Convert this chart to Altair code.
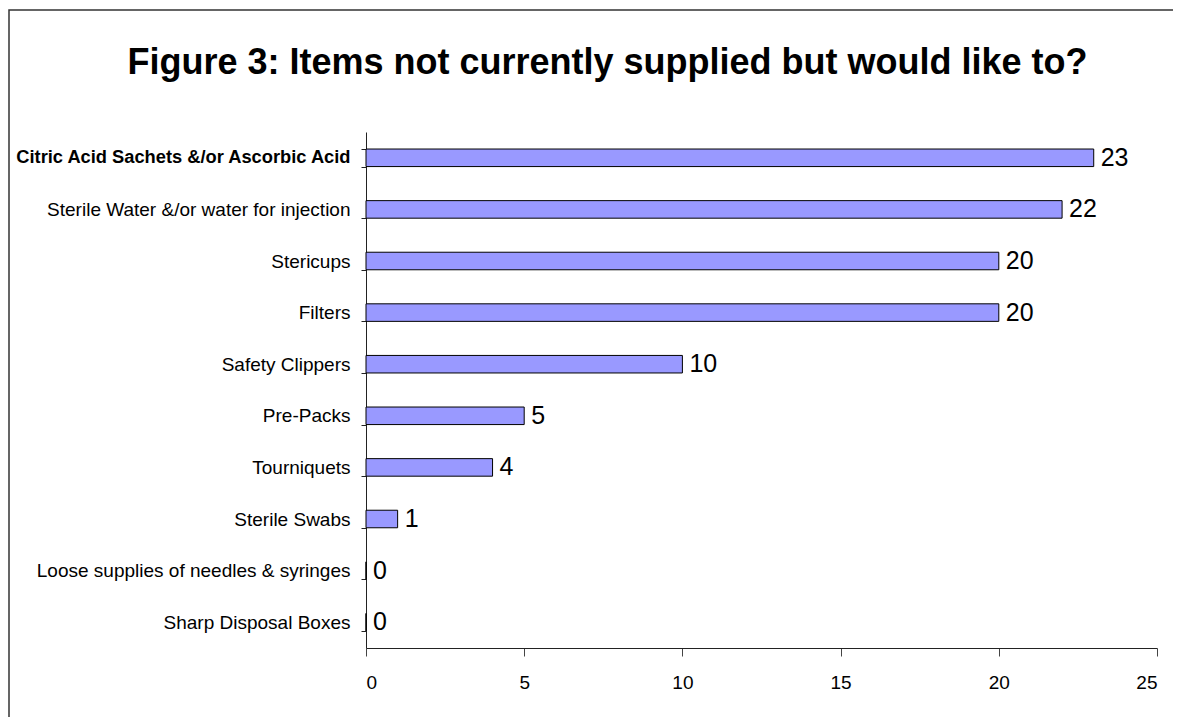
import altair as alt
import pandas as pd

categories = [
    "Citric Acid Sachets &/or Ascorbic Acid",
    "Sterile Water &/or water for injection",
    "Stericups",
    "Filters",
    "Safety Clippers",
    "Pre-Packs",
    "Tourniquets",
    "Sterile Swabs",
    "Loose supplies of needles & syringes",
    "Sharp Disposal Boxes",
]
counts = [23, 22, 20, 20, 10, 5, 4, 1, 0, 0]
x_ticks = [0, 5, 10, 15, 20, 25]

df = pd.DataFrame({"item": categories, "count": counts})

FONT = "Liberation Sans"
BOLD_TEST = "datum.value == 'Citric Acid Sachets &/or Ascorbic Acid'"

y_enc = alt.Y(
    "item:N",
    sort=categories,
    scale=alt.Scale(paddingInner=0.66, paddingOuter=0.33),
    axis=alt.Axis(
        title=None,
        tickBand="extent",
        labelFont=FONT,
        labelFontSize=alt.condition(BOLD_TEST, alt.value(18.3), alt.value(19)),
        labelColor="black",
        labelPadding=11,
        labelLimit=500,
        labelFontWeight=alt.condition(
            BOLD_TEST, alt.value("bold"), alt.value("normal")
        ),
        domainColor="#222",
        tickColor="#222",
        tickSize=5,
    ),
)
x_enc = alt.X(
    "count:Q",
    scale=alt.Scale(domain=[0, 25], nice=False),
    axis=alt.Axis(
        title=None,
        values=x_ticks,
        grid=False,
        labelFont=FONT,
        labelFontSize=19,
        labelColor="black",
        labelPadding=17,
        domainColor="#222",
        tickColor="#444",
        tickSize=8,
    ),
)

base = alt.Chart(df)
bars = base.mark_bar(color="#9999FF", stroke="black", strokeWidth=1).encode(
    y=y_enc, x=x_enc
)
labels = base.mark_text(
    align="left", baseline="middle", dx=7, font=FONT, fontSize=25, color="black"
).encode(y=y_enc, x=x_enc, text="count:Q")

frame = alt.Chart(alt.Data(values=[{"f": 1}])).mark_rect(
    fillOpacity=0, stroke="#333", strokeWidth=1.5
).encode(
    x=alt.value(-357), x2=alt.value(900), y=alt.value(-122), y2=alt.value(800)
)

chart = (
    alt.layer(frame, bars, labels)
    .properties(
        width=791,
        height=516,
        autosize="none",
        padding={"left": 358, "top": 124, "right": 16, "bottom": 69},
        title=alt.TitleParams(
            text="Figure 3: Items not currently supplied but would like to?",
            font=FONT,
            fontSize=36,
            fontWeight="bold",
            color="black",
            anchor="middle",
            dx=-154,
            dy=77,
        ),
    )
    .configure_view(stroke=None)
)

chart.save("out.html", embed_options={"renderer": "svg", "actions": False})
